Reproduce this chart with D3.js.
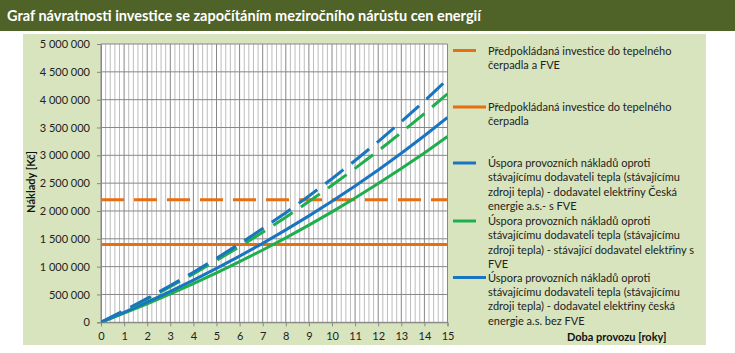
<!DOCTYPE html>
<html>
<head>
<meta charset="utf-8">
<script src="https://cdn.jsdelivr.net/npm/d3@7"></script>
<style>
  body { margin: 0; background: #fff; }
  svg { display: block; font-family: Lato, "Open Sans", sans-serif; }
</style>
</head>
<body>
<svg width="735" height="353"></svg>
<script>
// Data
const years = [0, 1, 2, 3, 4, 5, 6, 7, 8, 9, 10, 11, 12, 13, 14, 15];
const investHpFve = 2200000;
const investHp = 1400000;
const savingCezFve = [0, 210000, 429000, 659000, 898000, 1149000, 1411000, 1684000, 1970000, 2268000, 2580000, 2907000, 3247000, 3604000, 3976000, 4365000];
const savingCurrentFve = [0, 205000, 418000, 640000, 871000, 1110000, 1360000, 1619000, 1889000, 2170000, 2461000, 2765000, 3080000, 3409000, 3750000, 4105000];
const savingCezNoFve = [0, 177000, 362000, 555000, 757000, 968000, 1189000, 1419000, 1660000, 1912000, 2175000, 2450000, 2737000, 3037000, 3351000, 3679000];
const savingCurrentNoFve = [0, 163000, 333000, 510000, 695000, 888000, 1089000, 1299000, 1518000, 1746000, 1984000, 2233000, 2492000, 2762000, 3043000, 3337000];
const yTicks = [0, 500000, 1000000, 1500000, 2000000, 2500000, 3000000, 3500000, 4000000, 4500000, 5000000];

const orange = "#e66f12", blue = "#1a75c0", green = "#1fae4e";
const dash = "23,10";

const series = [
  { name: "Předpokládaná investice do tepelného|čerpadla a FVE", values: years.map(() => investHpFve), color: orange, dash: dash, width: 3 },
  { name: "Předpokládaná investice do tepelného|čerpadla", values: years.map(() => investHp), color: orange, dash: null, width: 3 },
  { name: "Úspora provozních nákladů oproti|stávajícímu dodavateli tepla (stávajícímu|zdroji tepla) - dodavatel elektřiny Česká|energie a.s.- s FVE", values: savingCezFve, color: blue, dash: dash, width: 3 },
  { name: "Úspora provozních nákladů oproti|stávajícímu dodavateli tepla (stávajícímu|zdroji tepla) - stávající dodavatel elektřiny s|FVE", values: savingCurrentFve, color: green, dash: dash, width: 3 },
  { name: "Úspora provozních nákladů oproti|stávajícímu dodavateli tepla (stávajícímu|zdroji tepla) - dodavatel elektřiny česká|energie a.s. bez FVE", values: savingCezNoFve, color: blue, dash: null, width: 3 },
  { name: null, values: savingCurrentNoFve, color: green, dash: null, width: 3 }
];

const svg = d3.select("svg");

// Title band
svg.append("rect").attr("x", 0).attr("y", 0).attr("width", 735).attr("height", 31).attr("fill", "#4f6228");
svg.append("text").attr("x", 7).attr("y", 21).attr("fill", "#fff")
  .attr("font-size", 14.5).attr("font-weight", "bold")
  .text("Graf návratnosti investice se započítáním meziročního nárůstu cen energií");

// Chart area background
svg.append("rect").attr("x", 23).attr("y", 34).attr("width", 683).attr("height", 311).attr("fill", "#d7e4bd");

const x = d3.scaleLinear().domain([0, 15]).range([101, 447.5]);
const y = d3.scaleLinear().domain([0, 5000000]).range([322.3, 44]);

// Plot area
svg.append("rect").attr("x", x(0)).attr("y", y(5000000))
  .attr("width", x(15) - x(0)).attr("height", y(0) - y(5000000)).attr("fill", "#fff");

const grid = svg.append("g");
const minor = d3.range(0, 15.0001, 0.2);
grid.selectAll(".minor").data(minor.filter(v => Math.abs(v - Math.round(v)) > 0.01)).join("line")
  .attr("x1", d => x(d)).attr("x2", d => x(d)).attr("y1", y(0)).attr("y2", y(5000000))
  .attr("stroke", "#bdbdbd").attr("stroke-width", 1);
grid.selectAll(".major").data(years).join("line")
  .attr("x1", d => x(d)).attr("x2", d => x(d)).attr("y1", y(0)).attr("y2", y(5000000))
  .attr("stroke", "#878787").attr("stroke-width", 1);
grid.selectAll(".hgrid").data(yTicks).join("line")
  .attr("x1", x(0)).attr("x2", x(15)).attr("y1", d => y(d)).attr("y2", d => y(d))
  .attr("stroke", "#878787").attr("stroke-width", 1);

// Axes
const fmt = d => d3.format(",")(d).replace(/,/g, " ");
const yAxis = svg.append("g").attr("transform", `translate(${x(0)},0)`)
  .call(d3.axisLeft(y).tickValues(yTicks).tickFormat(fmt).tickSizeOuter(0).tickSize(4).tickPadding(7));
const xAxis = svg.append("g").attr("transform", `translate(0,${y(0)})`)
  .call(d3.axisBottom(x).tickValues(years).tickFormat(d3.format("d")).tickSizeOuter(0).tickSize(4).tickPadding(6));
[yAxis, xAxis].forEach(a => {
  a.select(".domain").attr("stroke", "#878787");
  a.selectAll(".tick line").attr("stroke", "#878787");
  a.selectAll("text").attr("font-family", "Lato, sans-serif").attr("font-size", 11).attr("fill", "#222");
});

// Axis titles
svg.append("text").attr("transform", "translate(35,182) rotate(-90)")
  .attr("text-anchor", "middle").attr("font-size", 11).attr("font-weight", "bold").attr("fill", "#111")
  .text("Náklady [Kč]");
svg.append("text").attr("x", 567).attr("y", 341)
  .attr("font-size", 11).attr("font-weight", "bold").attr("fill", "#111")
  .text("Doba provozu [roky]");

// Lines
const line = d3.line().x((d, i) => x(years[i])).y(d => y(d));
svg.append("clipPath").attr("id", "plot").append("rect")
  .attr("x", x(0)).attr("y", y(5000000)).attr("width", x(15) - x(0)).attr("height", y(0) - y(5000000));
const drawOrder = [0, 1, 5, 4, 3, 2];
svg.append("g").attr("clip-path", "url(#plot)")
  .selectAll("path").data(drawOrder.map(i => series[i])).join("path")
  .attr("d", d => line(d.values))
  .attr("fill", "none").attr("stroke", d => d.color).attr("stroke-width", d => d.width)
  .attr("stroke-dasharray", d => d.dash).attr("stroke-linejoin", "round");

// Legend
const legendTop = [50.5, 107, 163, 221, 277.5];
const lineH = 14.4;
const legend = svg.append("g");
series.filter(s => s.name).forEach((s, i) => {
  const g = legend.append("g").attr("transform", `translate(0,${legendTop[i]})`);
  g.append("line").attr("x1", 453).attr("x2", 486).attr("y1", 0).attr("y2", 0)
    .attr("stroke", s.color).attr("stroke-width", 3).attr("stroke-dasharray", s.dash);
  s.name.split("|").forEach((t, j) => {
    g.append("text").attr("x", 488).attr("y", j * lineH + 4).attr("font-size", 11).attr("fill", "#222").text(t);
  });
});
</script>
</body>
</html>
